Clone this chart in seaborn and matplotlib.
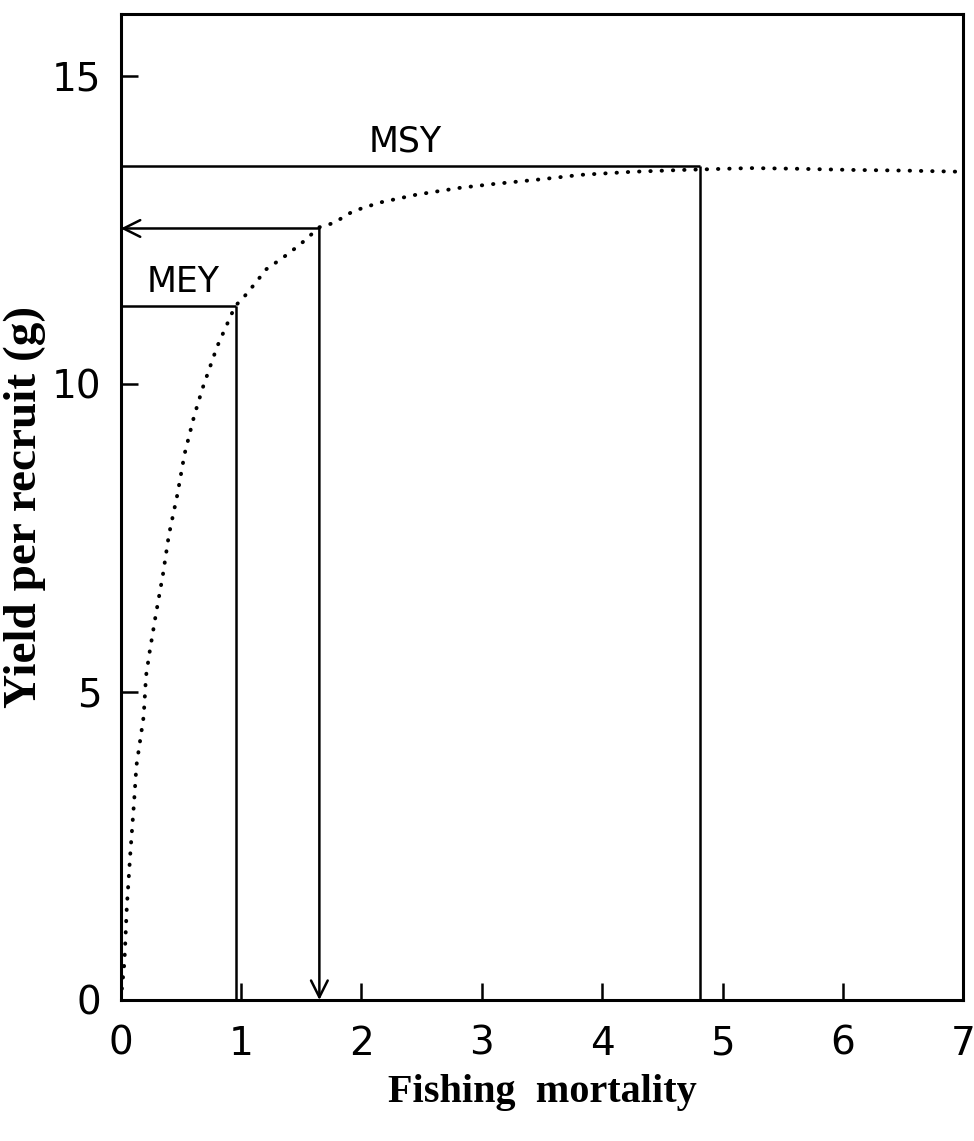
import matplotlib
matplotlib.use("Agg")
import matplotlib.pyplot as plt
import seaborn as sns
import pandas as pd

# yield-per-recruit curve
fishing_mortality = [0.0, 0.03, 0.05, 0.08, 0.11, 0.13, 0.19, 0.21, 0.24, 0.29, 0.35,
                     0.40, 0.47, 0.53, 0.61, 0.68, 0.80, 0.95, 1.02, 1.10, 1.21,
                     1.35, 1.49, 1.65, 1.77, 1.93, 2.15, 2.46, 2.82, 3.09, 3.50,
                     3.82, 4.25, 4.67, 5.23, 5.60, 6.08, 6.50, 7.0]
yield_per_recruit = [0.0, 0.6, 1.5, 2.4, 3.2, 3.8, 4.6, 5.26, 5.65, 6.24, 6.9,
                     7.55, 8.2, 8.86, 9.48, 9.93, 10.6, 11.26, 11.4, 11.59, 11.86,
                     12.05, 12.26, 12.54, 12.61, 12.80, 12.94, 13.07, 13.18, 13.24, 13.32,
                     13.39, 13.44, 13.47, 13.5, 13.49, 13.47, 13.46, 13.44]

# reference points
msy_f, msy_y = 4.81, 13.53
mey_f, mey_y = 0.96, 11.26
opt_f, opt_y = 1.65, 12.52

x_ticks = [0, 1, 2, 3, 4, 5, 6, 7]
y_ticks = [0, 5, 10, 15]

df = pd.DataFrame({"F": fishing_mortality, "Y": yield_per_recruit})

sns.set_style("white")
plt.rcParams.update({"text.color": "black", "axes.labelcolor": "black",
                     "xtick.color": "black", "ytick.color": "black"})
fig = plt.figure(figsize=(9.74, 11.41), dpi=100)
ax = fig.add_axes([0.124, 0.1236, 0.865, 0.8641])

sns.lineplot(data=df, x="F", y="Y", ax=ax, color="black", linewidth=2.8,
             linestyle=(0, (0.1, 2.8)), dash_capstyle="round", sort=False)

lw = 1.8
# MSY box
ax.plot([0, msy_f], [msy_y, msy_y], color="black", lw=lw, solid_capstyle="butt")
ax.plot([msy_f, msy_f], [msy_y, 0], color="black", lw=lw, solid_capstyle="butt")
# MEY box
ax.plot([0, mey_f], [mey_y, mey_y], color="black", lw=lw, solid_capstyle="butt")
ax.plot([mey_f, mey_f], [mey_y, 0], color="black", lw=lw, solid_capstyle="butt")
# arrows
arrow_kw = dict(arrowstyle="->", color="black", lw=lw, mutation_scale=30,
                shrinkA=0, shrinkB=0)
ax.annotate("", xy=(0, opt_y), xytext=(opt_f, opt_y), arrowprops=arrow_kw)
ax.annotate("", xy=(opt_f, 0), xytext=(opt_f, opt_y), arrowprops=arrow_kw)

ax.text(2.36, msy_y + 0.12, "MSY", fontsize=25, ha="center", va="bottom",
        family="DejaVu Sans")
ax.text(0.52, mey_y + 0.12, "MEY", fontsize=25, ha="center", va="bottom",
        family="DejaVu Sans")

ax.set_xlim(0, 7)
ax.set_ylim(0, 16)
ax.set_xticks(x_ticks)
ax.set_yticks(y_ticks)
ax.tick_params(direction="in", length=12, width=1.8, labelsize=28,
               bottom=True, left=True)
ax.tick_params(axis="x", pad=18)
ax.tick_params(axis="y", pad=14)
for s in ax.spines.values():
    s.set_linewidth(2.2)
    s.set_color("black")

ax.set_xlabel("Fishing  mortality", family="Liberation Serif", fontweight="bold",
              fontsize=29, labelpad=8)
ax.set_ylabel("Yield per recruit (g)", family="Liberation Serif", fontweight="bold",
              fontsize=34, labelpad=4)

fig.savefig("out.png", dpi=100)
